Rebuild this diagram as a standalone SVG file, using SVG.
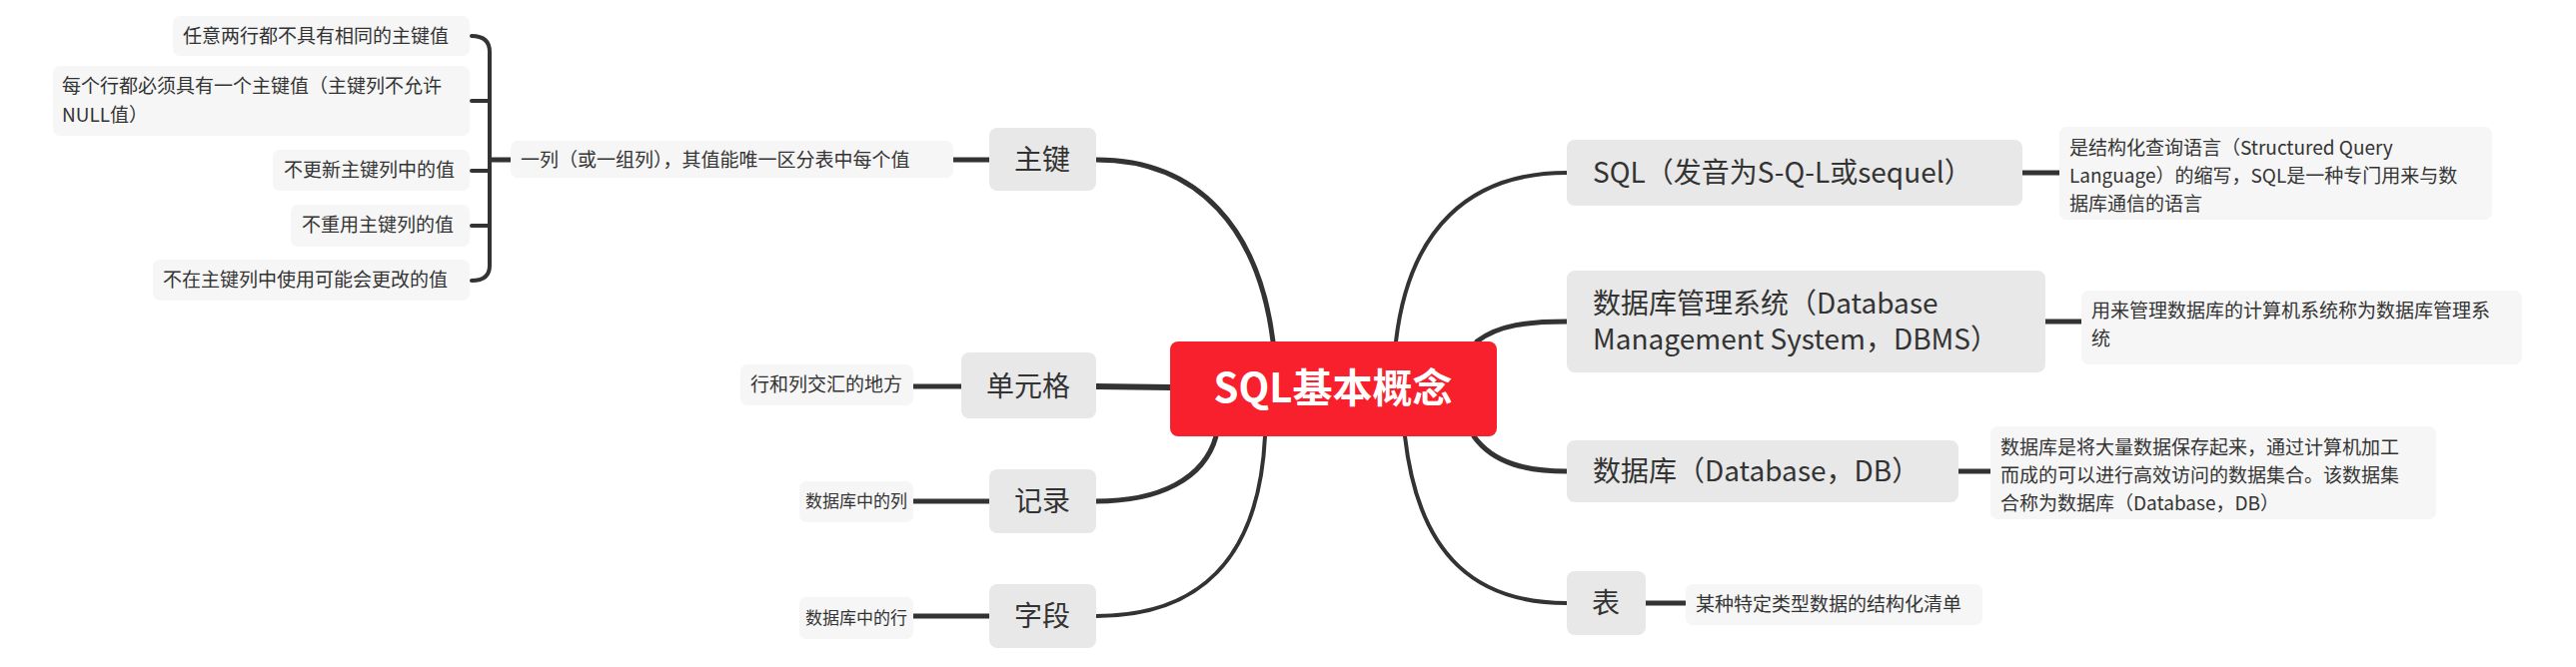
<svg xmlns="http://www.w3.org/2000/svg" width="2578" height="668" viewBox="0 0 2578 668">
<style>
text{font-family:"Noto Sans CJK SC","Noto Sans",sans-serif;fill:#333}
.m{fill:#e8e8e8}
.l{fill:#f6f6f6}
.mt{font-size:28px}
.lt{font-size:19px}
.st{font-size:17px}
.c{fill:none;stroke:#333;stroke-linecap:round}
</style>
<rect width="2578" height="668" fill="#fff"/>
<g id="connectors">
<path class="c" stroke-width="5" d="M1274,342 C1260,230 1200,160 1097,160"/>
<path class="c" stroke-width="6" d="M1171,388 L1097,387"/>
<path class="c" stroke-width="5" d="M1217,437 C1205,480 1160,502 1097,502"/>
<path class="c" stroke-width="4" d="M1266,437 C1260,560 1200,617 1097,617"/>
<path class="c" stroke-width="4" d="M1397,342 C1410,230 1470,173 1568,173"/>
<path class="c" stroke-width="5" d="M1478,342 C1500,325 1530,322 1568,322"/>
<path class="c" stroke-width="5" d="M1475,437 C1495,465 1530,472 1568,472"/>
<path class="c" stroke-width="4" d="M1406,437 C1420,560 1480,604 1568,604"/>
<path class="c" stroke-width="5" d="M990,160 L954,160"/>
<path class="c" stroke-width="5" d="M511,160 L492,160"/>
<path class="c" stroke-width="4" d="M472,36 Q490,36 490,52 L490,266 Q490,281 472,281"/>
<path class="c" stroke-width="4" d="M472,101 L490,101 M472,171 L490,171 M472,226 L490,226"/>
<path class="c" stroke-width="5" d="M962,387 L914,387"/>
<path class="c" stroke-width="5" d="M990,502 L914,502"/>
<path class="c" stroke-width="5" d="M990,617 L914,617"/>
<path class="c" stroke-width="5" d="M2024,173 L2061,173"/>
<path class="c" stroke-width="5" d="M2047,322 L2083,322"/>
<path class="c" stroke-width="5" d="M1960,472 L1992,472"/>
<path class="c" stroke-width="5" d="M1647,604 L1687,604"/>
</g>
<g id="center"><rect x="1171" y="342" width="327" height="95" rx="8" fill="#f8202d"/><text x="1334" y="403" text-anchor="middle" font-size="40" font-weight="bold" style="fill:#fff">SQL基本概念</text></g>
<g id="n-zhujian"><rect class="m" x="990" y="128" width="107" height="63" rx="8"/><text class="mt" x="1043" y="170" text-anchor="middle">主键</text></g>
<g id="n-zhujian-def"><rect class="l" x="511" y="141" width="443" height="37" rx="7"/><text class="lt" x="521" y="167">一列（或一组列），其值能唯一区分表中每个值</text></g>
<g id="k1"><rect class="l" x="173" y="16" width="297" height="40" rx="7"/><text class="lt" x="183" y="43">任意两行都不具有相同的主键值</text></g>
<g id="k2"><rect class="l" x="53" y="66" width="417" height="70" rx="7"/><text class="lt" x="62" y="93">每个行都必须具有一个主键值（主键列不允许</text><text class="lt" x="62" y="122">NULL值）</text></g>
<g id="k3"><rect class="l" x="273" y="150" width="197" height="41" rx="7"/><text class="lt" x="284" y="177">不更新主键列中的值</text></g>
<g id="k4"><rect class="l" x="291" y="205" width="179" height="42" rx="7"/><text class="lt" x="302" y="232">不重用主键列的值</text></g>
<g id="k5"><rect class="l" x="153" y="260" width="317" height="41" rx="7"/><text class="lt" x="163" y="287">不在主键列中使用可能会更改的值</text></g>
<g id="n-cell"><rect class="m" x="962" y="353" width="135" height="66" rx="8"/><text class="mt" x="1029" y="397" text-anchor="middle">单元格</text></g>
<g id="l-cell"><rect class="l" x="741" y="365" width="173" height="41" rx="7"/><text class="lt" x="751" y="392">行和列交汇的地方</text></g>
<g id="n-record"><rect class="m" x="990" y="470" width="107" height="64" rx="8"/><text class="mt" x="1043" y="512" text-anchor="middle">记录</text></g>
<g id="l-record"><rect class="l" x="800" y="482" width="114" height="41" rx="7"/><text class="st" x="857" y="508" text-anchor="middle">数据库中的列</text></g>
<g id="n-field"><rect class="m" x="990" y="585" width="107" height="64" rx="8"/><text class="mt" x="1043" y="627" text-anchor="middle">字段</text></g>
<g id="l-field"><rect class="l" x="800" y="598" width="114" height="42" rx="7"/><text class="st" x="857" y="625" text-anchor="middle">数据库中的行</text></g>
<g id="n-sql"><rect class="m" x="1568" y="140" width="456" height="66" rx="8"/><text class="mt" x="1594" y="183">SQL（发音为S-Q-L或sequel）</text></g>
<g id="l-sql"><rect class="l" x="2061" y="127" width="433" height="93" rx="7"/><text class="lt" x="2071" y="155">是结构化查询语言（Structured Query</text><text class="lt" x="2071" y="183">Language）的缩写，SQL是一种专门用来与数</text><text class="lt" x="2071" y="211">据库通信的语言</text></g>
<g id="n-dbms"><rect class="m" x="1568" y="271" width="479" height="102" rx="8"/><text class="mt" x="1594" y="314">数据库管理系统（Database</text><text class="mt" x="1594" y="350">Management System，DBMS）</text></g>
<g id="l-dbms"><rect class="l" x="2083" y="291" width="441" height="74" rx="7"/><text class="lt" x="2093" y="318">用来管理数据库的计算机系统称为数据库管理系</text><text class="lt" x="2093" y="346">统</text></g>
<g id="n-db"><rect class="m" x="1568" y="441" width="392" height="62" rx="8"/><text class="mt" x="1594" y="482">数据库（Database，DB）</text></g>
<g id="l-db"><rect class="l" x="1992" y="427" width="446" height="93" rx="7"/><text class="lt" x="2002" y="455">数据库是将大量数据保存起来，通过计算机加工</text><text class="lt" x="2002" y="483">而成的可以进行高效访问的数据集合。该数据集</text><text class="lt" x="2002" y="511">合称为数据库（Database，DB）</text></g>
<g id="n-table"><rect class="m" x="1568" y="572" width="79" height="64" rx="8"/><text class="mt" x="1607" y="614" text-anchor="middle">表</text></g>
<g id="l-table"><rect class="l" x="1687" y="585" width="297" height="41" rx="7"/><text class="lt" x="1697" y="612">某种特定类型数据的结构化清单</text></g>
</svg>
